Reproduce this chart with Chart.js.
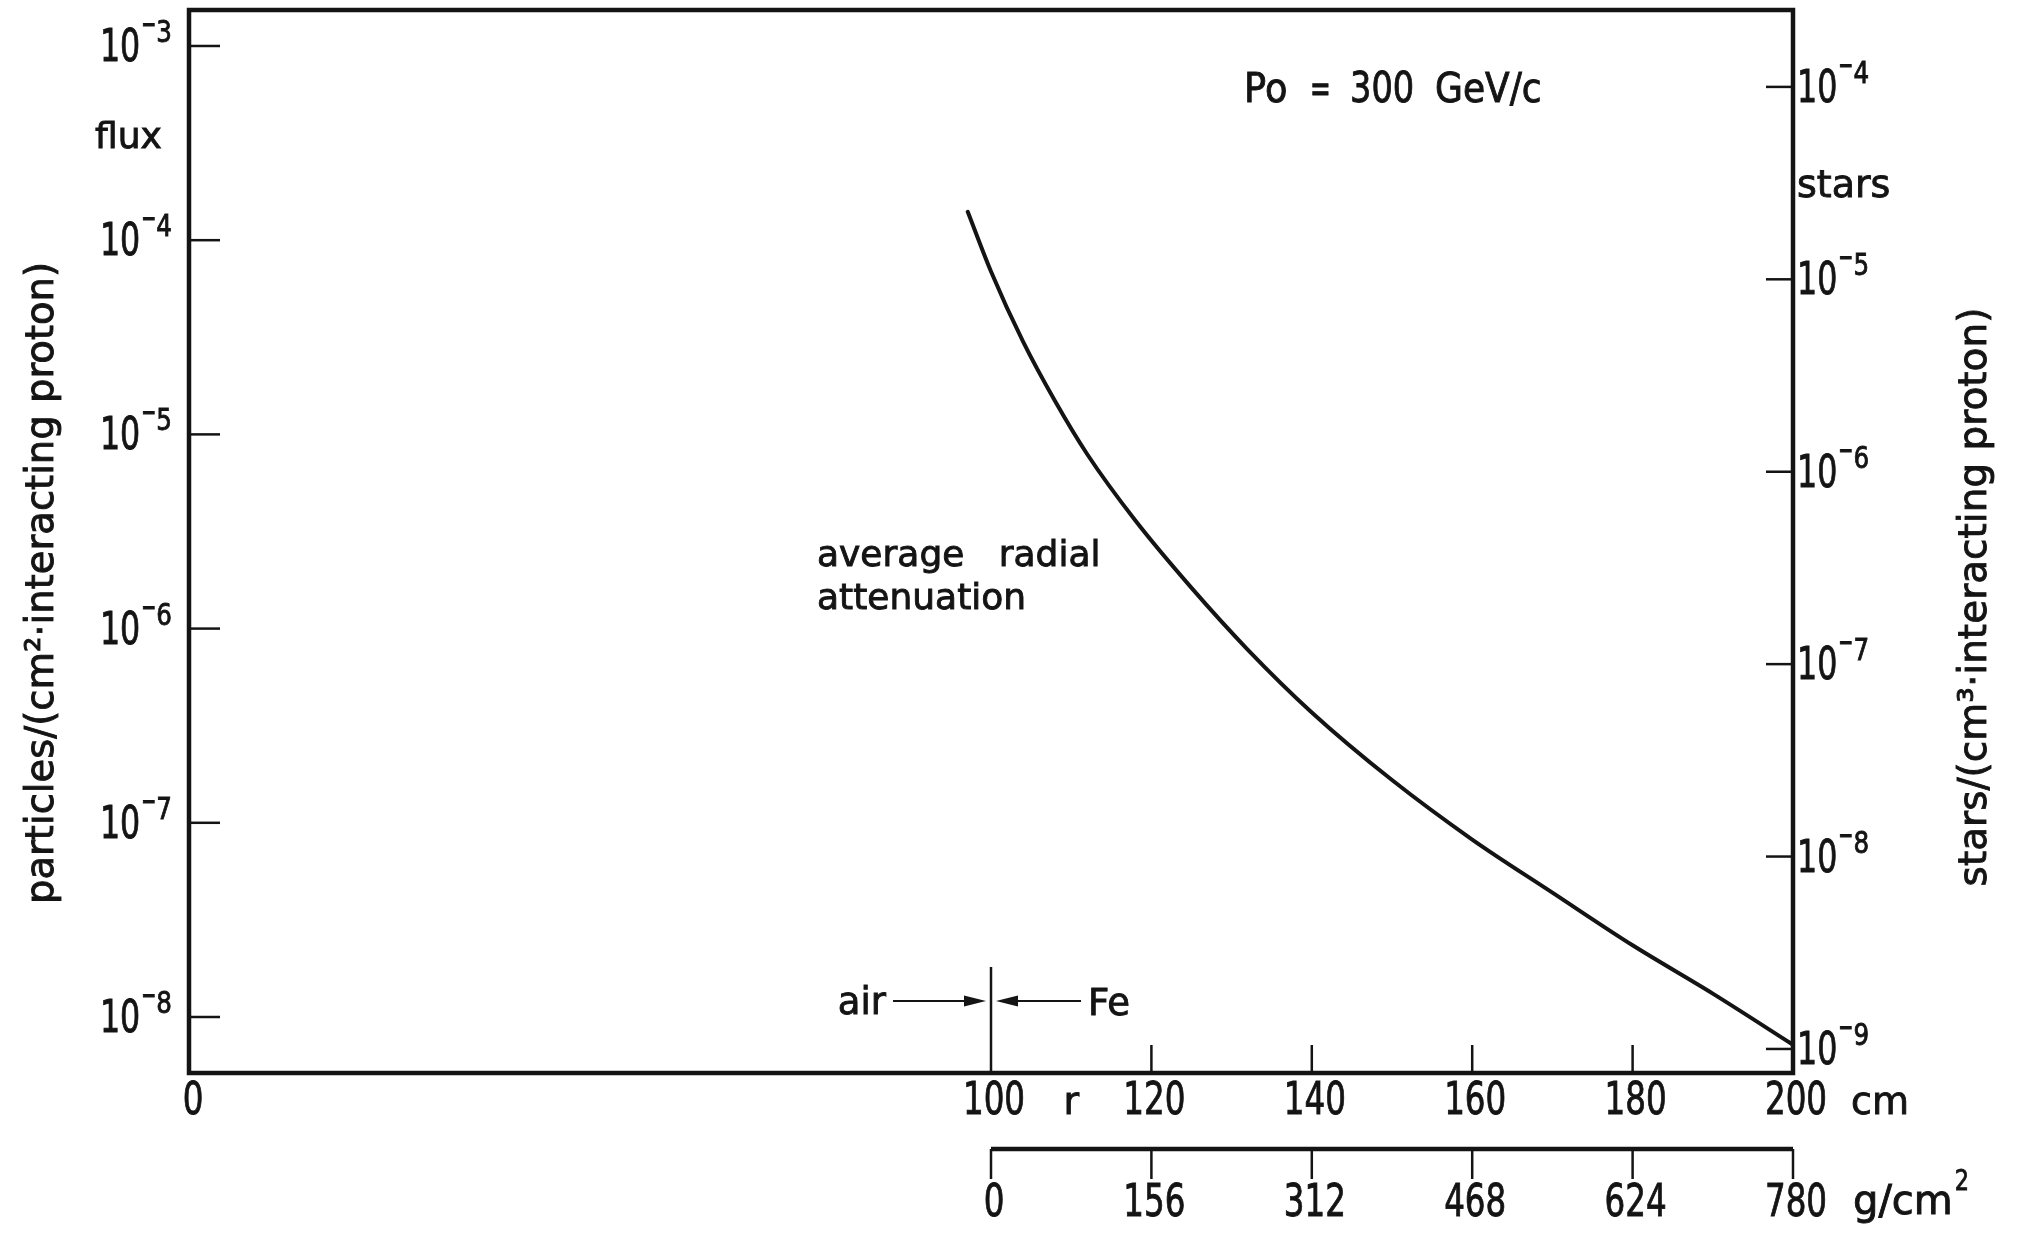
<!DOCTYPE html>
<html>
<head>
<meta charset="utf-8">
<script src="https://cdn.jsdelivr.net/npm/chart.js@4.4.1/dist/chart.umd.min.js"></script>
<style>
  html, body { margin: 0; padding: 0; background: #ffffff; }
  canvas { display: block; background: #ffffff; }
</style>
</head>
<body>
<canvas id="c" width="2021" height="1233"></canvas>
<script>
// ---- data ----
const radius = [97.1, 100, 104, 108, 112, 118, 125, 132, 140, 150, 160, 170, 180, 190, 200];
const flux   = [1.40e-4, 6.9e-5, 3.0e-5, 1.48e-5, 7.9e-6, 3.6e-6, 1.62e-6, 7.8e-7, 3.7e-7, 1.66e-7, 8.2e-8, 4.37e-8, 2.34e-8, 1.32e-8, 7.2e-9];

const leftTickExps  = [-3, -4, -5, -6, -7, -8];      // flux axis, 10^exp
const rightTickExps = [-4, -5, -6, -7, -8, -9];      // stars axis, 10^exp
const radiusTicks   = [0, 100, 120, 140, 160, 180, 200];
const radiusInnerTicks = [120, 140, 160, 180];
const massTicks     = [0, 156, 312, 468, 624, 780];

const INK = '#141414';
const FONT = '"DejaVu Sans", "Liberation Sans", sans-serif';

function txt(ctx, s, x, y, size, align, sx) {
  ctx.save();
  ctx.font = size + 'px ' + FONT;
  ctx.textBaseline = 'alphabetic';
  ctx.textAlign = 'left';
  const w = ctx.measureText(s).width * sx;
  const x0 = align === 'center' ? x - w / 2 : (align === 'right' ? x - w : x);
  ctx.translate(x0, y);
  ctx.scale(sx, 1);
  ctx.fillText(s, 0, 0);
  ctx.lineWidth = 0.9;
  ctx.strokeText(s, 0, 0);
  ctx.restore();
  return w;
}
function measure(ctx, s, size, sx) {
  ctx.save();
  ctx.font = size + 'px ' + FONT;
  const w = ctx.measureText(s).width * sx;
  ctx.restore();
  return w;
}
function powLabel(ctx, exp, x, y, align) {
  const bs = 44, bsx = 0.72, es = 30, esx = 0.82;
  const wb = measure(ctx, '10', bs, bsx);
  const wm = measure(ctx, '\u2212', es, 0.6);
  const wd = measure(ctx, String(Math.abs(exp)), es, esx);
  const total = wb + 2 + wm + wd;
  const x0 = align === 'right' ? x - total : x;
  txt(ctx, '10', x0, y + 15, bs, 'left', bsx);
  txt(ctx, '\u2212', x0 + wb + 1, y - 12, es, 'left', 0.6);
  txt(ctx, String(Math.abs(exp)), x0 + wb + 2 + wm - 1, y - 4, es, 'left', esx);
}
function rotText(ctx, s, x, y, size) {
  ctx.save();
  ctx.font = size + 'px ' + FONT;
  ctx.textBaseline = 'alphabetic';
  ctx.textAlign = 'center';
  ctx.translate(x, y);
  ctx.rotate(-Math.PI / 2);
  ctx.fillText(s, 0, 0);
  ctx.lineWidth = 0.9;
  ctx.strokeText(s, 0, 0);
  ctx.restore();
}
function line(ctx, x1, y1, x2, y2, w) {
  ctx.beginPath();
  ctx.lineWidth = w;
  ctx.moveTo(x1, y1);
  ctx.lineTo(x2, y2);
  ctx.stroke();
}
function arrowHead(ctx, tipX, y, dir) {
  ctx.beginPath();
  ctx.moveTo(tipX, y);
  ctx.lineTo(tipX - dir * 22, y - 5.5);
  ctx.lineTo(tipX - dir * 22, y + 5.5);
  ctx.closePath();
  ctx.fill();
}

const framePlugin = {
  id: 'frame',
  afterDatasetsDraw(chart) {
    const ctx = chart.ctx;
    const { left, right, top, bottom } = chart.chartArea;
    const xs = chart.scales.x, ys = chart.scales.y, y2 = chart.scales.y2, xm = chart.scales.xm;
    ctx.save();
    ctx.strokeStyle = INK;
    ctx.fillStyle = INK;
    ctx.lineCap = 'butt';

    // frame
    ctx.lineWidth = 4.5;
    ctx.strokeRect(left, top, right - left, bottom - top);

    // left (flux) ticks + labels
    leftTickExps.forEach(e => {
      const y = ys.getPixelForValue(Math.pow(10, e));
      line(ctx, left, y, left + 31, y, 2.5);
      powLabel(ctx, e, left - 16, y, 'right');
    });
    // right (stars) ticks + labels
    rightTickExps.forEach(e => {
      const y = y2.getPixelForValue(Math.pow(10, e));
      line(ctx, right - 27, y, right, y, 2.5);
      powLabel(ctx, e, right + 4, y, 'left');
    });

    // bottom radius ticks (inward)
    radiusInnerTicks.forEach(v => {
      const x = xs.getPixelForValue(v);
      line(ctx, x, bottom, x, bottom - 28, 2.5);
    });
    // air / Fe boundary at r = 100
    const xb = xs.getPixelForValue(100);
    line(ctx, xb, bottom, xb, bottom - 106, 2.5);
    const ay = bottom - 72;
    line(ctx, xb - 98, ay, xb - 18, ay, 2.2);
    arrowHead(ctx, xb - 5, ay, 1);
    line(ctx, xb + 18, ay, xb + 90, ay, 2.2);
    arrowHead(ctx, xb + 5, ay, -1);
    txt(ctx, 'air', xb - 105, ay + 13, 37, 'right', 1);
    txt(ctx, 'Fe', xb + 97, ay + 14, 37, 'left', 1);

    // radius labels
    radiusTicks.forEach(v => {
      txt(ctx, String(v), xs.getPixelForValue(v) + (v === 0 ? 4 : 3), bottom + 41, 44, 'center', 0.74);
    });
    txt(ctx, 'r', xs.getPixelForValue(110), bottom + 41, 38, 'center', 1);
    txt(ctx, 'cm', xs.getPixelForValue(200) + 58, bottom + 41, 38, 'left', 1);

    // mass-thickness axis
    const my = bottom + 76;
    line(ctx, xm.getPixelForValue(0), my, xm.getPixelForValue(780), my, 4.5);
    massTicks.forEach(v => {
      const x = xm.getPixelForValue(v);
      line(ctx, x, my, x, my + 30, 2.5);
      txt(ctx, String(v), x + 3, my + 67, 44, 'center', 0.74);
    });
    const gx = xm.getPixelForValue(780) + 60;
    const gw = txt(ctx, 'g/cm', gx, my + 65, 40, 'left', 1);
    txt(ctx, '2', gx + gw + 2, my + 41, 28, 'left', 0.8);

    // annotations
    txt(ctx, 'flux', 95, 148, 36, 'left', 1);
    txt(ctx, 'stars', right + 4, 197, 38, 'left', 1);
    txt(ctx, 'Po', 1244, 102, 40, 'left', 0.92);
    txt(ctx, '=', 1310, 102, 40, 'left', 0.62);
    txt(ctx, '300', 1350, 102, 42, 'left', 0.8);
    txt(ctx, 'GeV/c', 1435, 102, 40, 'left', 0.9);
    txt(ctx, 'average   radial', 817, 566, 36, 'left', 1);
    txt(ctx, 'attenuation', 817, 609, 36, 'left', 1);

    // axis titles
    rotText(ctx, 'particles/(cm\u00B2\u00B7interacting proton)', 53, 583, 38.5);
    rotText(ctx, 'stars/(cm\u00B3\u00B7interacting proton)', 1986, 597, 39);

    ctx.restore();
  }
};

new Chart(document.getElementById('c').getContext('2d'), {
  type: 'line',
  data: {
    datasets: [{
      data: radius.map((r, i) => ({ x: r, y: flux[i] })),
      borderColor: INK,
      borderWidth: 4,
      pointRadius: 0,
      fill: false,
      cubicInterpolationMode: 'monotone',
      borderCapStyle: 'round'
    }]
  },
  options: {
    responsive: false,
    animation: false,
    devicePixelRatio: 1,
    layout: { padding: { left: 189, right: 228, top: 10, bottom: 160 } },
    plugins: { legend: { display: false }, tooltip: { enabled: false } },
    scales: {
      x:  { type: 'linear', min: 0, max: 200, display: false },
      xm: { type: 'linear', axis: 'x', min: -780, max: 780, display: false },
      y:  { type: 'logarithmic', min: 5.148e-9, max: 1.532e-3, display: false },
      y2: { type: 'logarithmic', axis: 'y', position: 'right', min: 7.5e-10, max: 2.51e-4, display: false }
    }
  },
  plugins: [framePlugin]
});
</script>
</body>
</html>
